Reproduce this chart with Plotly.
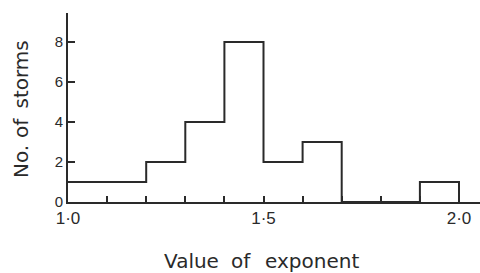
import plotly.graph_objects as go

bin_edges = [1.0, 1.1, 1.2, 1.3, 1.4, 1.5, 1.6, 1.7, 1.8, 1.9, 2.0]
counts = [1, 1, 2, 4, 8, 2, 3, 0, 0, 1]
x_tick_vals = bin_edges
x_tick_text = ["1·0", "", "", "", "", "1·5", "", "", "", "", "2·0"]
y_tick_vals = [0, 2, 4, 6, 8]
x_title_words = ["Value", "of", "exponent"]
y_title_words = ["No.", "of", "storms"]

ink = "#2a2a2a"
L, R, T, B = 68, 0, 13, 71
W, H = 480 - L - R, 273 - T - B


def px(x):
    return (x - L) / W


def py(y):
    return (273 - B - y) / H


fig = go.Figure()
fig.add_trace(go.Scatter(
    x=bin_edges, y=counts + [0], mode="lines",
    line=dict(shape="hv", color=ink, width=2), hoverinfo="skip",
    cliponaxis=False))

title_font = dict(family="DejaVu Sans", size=20, color=ink)
annotations = []
for word, cx in zip(x_title_words, [191, 241, 311.5]):
    annotations.append(dict(text=word, x=px(cx), y=py(261), xref="paper", yref="paper",
                            xanchor="center", yanchor="middle", showarrow=False,
                            font=title_font))
for word, cy in zip(y_title_words, [161.5, 128.5, 75]):
    annotations.append(dict(text=word, x=px(20.5), y=py(cy), xref="paper", yref="paper",
                            xanchor="center", yanchor="middle", textangle=-90,
                            showarrow=False, font=title_font))

fig.update_layout(
    width=480, height=273, margin=dict(l=L, r=R, t=T, b=B, autoexpand=False),
    paper_bgcolor="white", plot_bgcolor="white", showlegend=False,
    font=dict(family="Liberation Sans", size=15, color=ink),
    xaxis=dict(range=[1.0, 1.0 + W / 391.0], tickvals=x_tick_vals, ticktext=x_tick_text,
               ticks="inside", ticklen=6, tickwidth=1.5, tickcolor=ink,
               tickfont=dict(family="Liberation Sans", size=17, color=ink),
               showline=True, linecolor=ink, linewidth=2, showgrid=False,
               zeroline=False, fixedrange=True, automargin=False),
    yaxis=dict(range=[0, 9.45], tickvals=y_tick_vals, ticks="inside",
               ticklen=7, tickwidth=1.5, tickcolor=ink,
               tickfont=dict(family="Liberation Sans", size=15, color=ink),
               showline=True, linecolor=ink, linewidth=2, showgrid=False,
               zeroline=False, fixedrange=True, automargin=False),
    annotations=annotations,
)
fig.write_html("out.html", config={"displayModeBar": False},
               post_script="document.body.style.margin='0';")
